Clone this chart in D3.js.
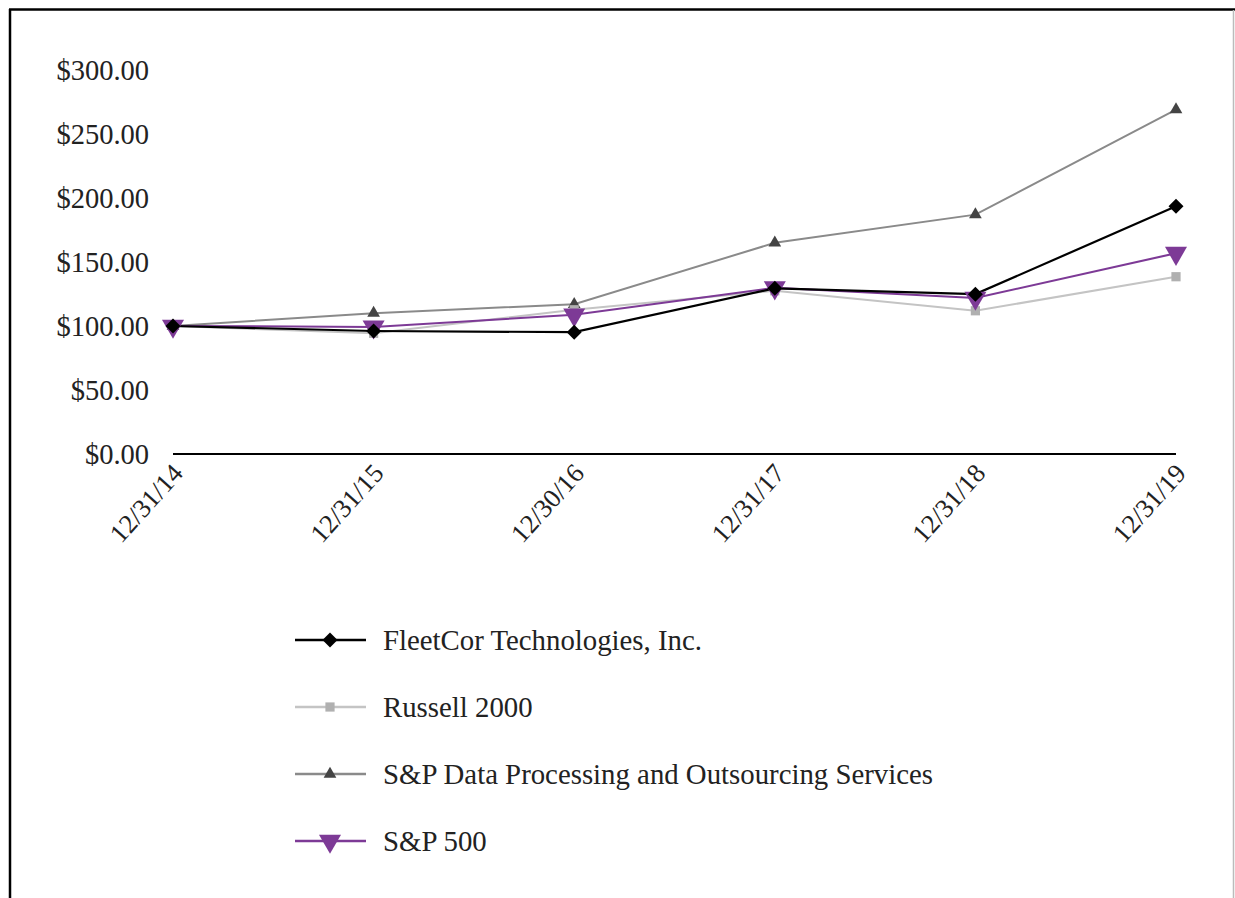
<!DOCTYPE html>
<html><head><meta charset="utf-8">
<script src="https://cdn.jsdelivr.net/npm/d3@7"></script>
<style>body{margin:0;background:#fff}svg{display:block}text{font-family:"Liberation Serif","Times New Roman",serif;fill:#222}</style>
</head><body><svg id="c" width="1235" height="898"></svg>
<script>
const categories = ["12/31/14","12/31/15","12/30/16","12/31/17","12/31/18","12/31/19"];
const fleetcor = [100, 96.1, 95.2, 129.4, 124.9, 193.5];
const russell = [100, 94.3, 112.7, 127.5, 111.9, 138.5];
const spData = [100, 110, 117, 165, 187, 269];
const sp500 = [100, 99.3, 108.7, 129.9, 121.8, 156.9];
const yTicks = [0, 50, 100, 150, 200, 250, 300];

const series = [
  {name:"FleetCor Technologies, Inc.", values:fleetcor, line:"#000", marker:"#000", sym:"diamond", size:150, w:2.2},
  {name:"Russell 2000", values:russell, line:"#c4c4c4", marker:"#b0b0b0", sym:"square", size:85, w:2},
  {name:"S&P Data Processing and Outsourcing Services", values:spData, line:"#8a8a8a", marker:"#444", sym:"triangle", size:70, w:2},
  {name:"S&P 500", values:sp500, line:"#7d3a96", marker:"#7d3a96", sym:"tri-down", size:210, w:2}
];

const svg = d3.select("#c");
// frame
svg.append("line").attr("x1",10).attr("y1",9).attr("x2",10).attr("y2",898).attr("stroke","#000").attr("stroke-width",2.5);
svg.append("line").attr("x1",9).attr("y1",9.5).attr("x2",1235).attr("y2",9.5).attr("stroke","#000").attr("stroke-width",2.5);
svg.append("line").attr("x1",1233.5).attr("y1",10).attr("x2",1233.5).attr("y2",898).attr("stroke","#bbb").attr("stroke-width",1.5);

const x = d3.scalePoint().domain(categories).range([173,1176]);
const y = d3.scaleLinear().domain([0,300]).range([454,70]);

// y axis labels
const yAxis = d3.axisLeft(y).tickValues(yTicks).tickSize(0).tickPadding(0).tickFormat(d=>"$"+d3.format(".2f")(d));
const gy = svg.append("g").attr("transform","translate(149,0)").call(yAxis);
gy.select(".domain").remove();
gy.selectAll("text").style("font-size","28.5px").style("font-family",'"Liberation Serif",serif').attr("fill","#222");

// x axis
const xAxis = d3.axisBottom(x).tickSize(0).tickPadding(0);
const gx = svg.append("g").attr("transform","translate(0,454)").call(xAxis);
gx.select(".domain").attr("stroke","#000").attr("stroke-width",2.2).attr("d","M"+x(categories[0])+",0H"+x(categories[categories.length-1]));
gx.selectAll("text").style("font-size","26.5px").style("font-family",'"Liberation Serif",serif').attr("fill","#222")
  .attr("text-anchor","end").attr("dy","0.35em").attr("y",0)
  .attr("transform","translate(4,14) rotate(-48)");

function drawSymbol(g, s, cx, cy){
  let gen;
  if (s.sym==="diamond") gen = d3.symbol().type(d3.symbolSquare).size(s.size*0.75);
  else if (s.sym==="square") gen = d3.symbol().type(d3.symbolSquare).size(s.size);
  else gen = d3.symbol().type(d3.symbolTriangle).size(s.size);
  let rot = s.sym==="diamond" ? " rotate(45)" : (s.sym==="tri-down" ? " rotate(180)" : "");
  g.append("path").attr("d",gen()).attr("fill",s.marker)
    .attr("transform",`translate(${cx},${cy})${rot}`);
}

const line = d3.line().x((d,i)=>x(categories[i])).y(d=>y(d));
const drawOrder = [2,1,3,0];
drawOrder.forEach(k=>{
  const s = series[k];
  svg.append("path").datum(s.values).attr("d",line).attr("fill","none").attr("stroke",s.line).attr("stroke-width",s.w);
});
drawOrder.forEach(k=>{
  const s = series[k];
  const g = svg.append("g");
  s.values.forEach((v,i)=>drawSymbol(g,s,x(categories[i]),y(v)));
});

// legend
const legY = [640,707,774,841];
series.forEach((s,i)=>{
  const g = svg.append("g");
  g.append("line").attr("x1",295).attr("x2",366).attr("y1",legY[i]).attr("y2",legY[i]).attr("stroke",s.line).attr("stroke-width",s.w+0.5);
  drawSymbol(g,s,330,legY[i]);
  g.append("text").attr("x",383).attr("y",legY[i]).attr("dy","0.35em").style("font-size","28.8px").text(s.name);
});
</script></body></html>
